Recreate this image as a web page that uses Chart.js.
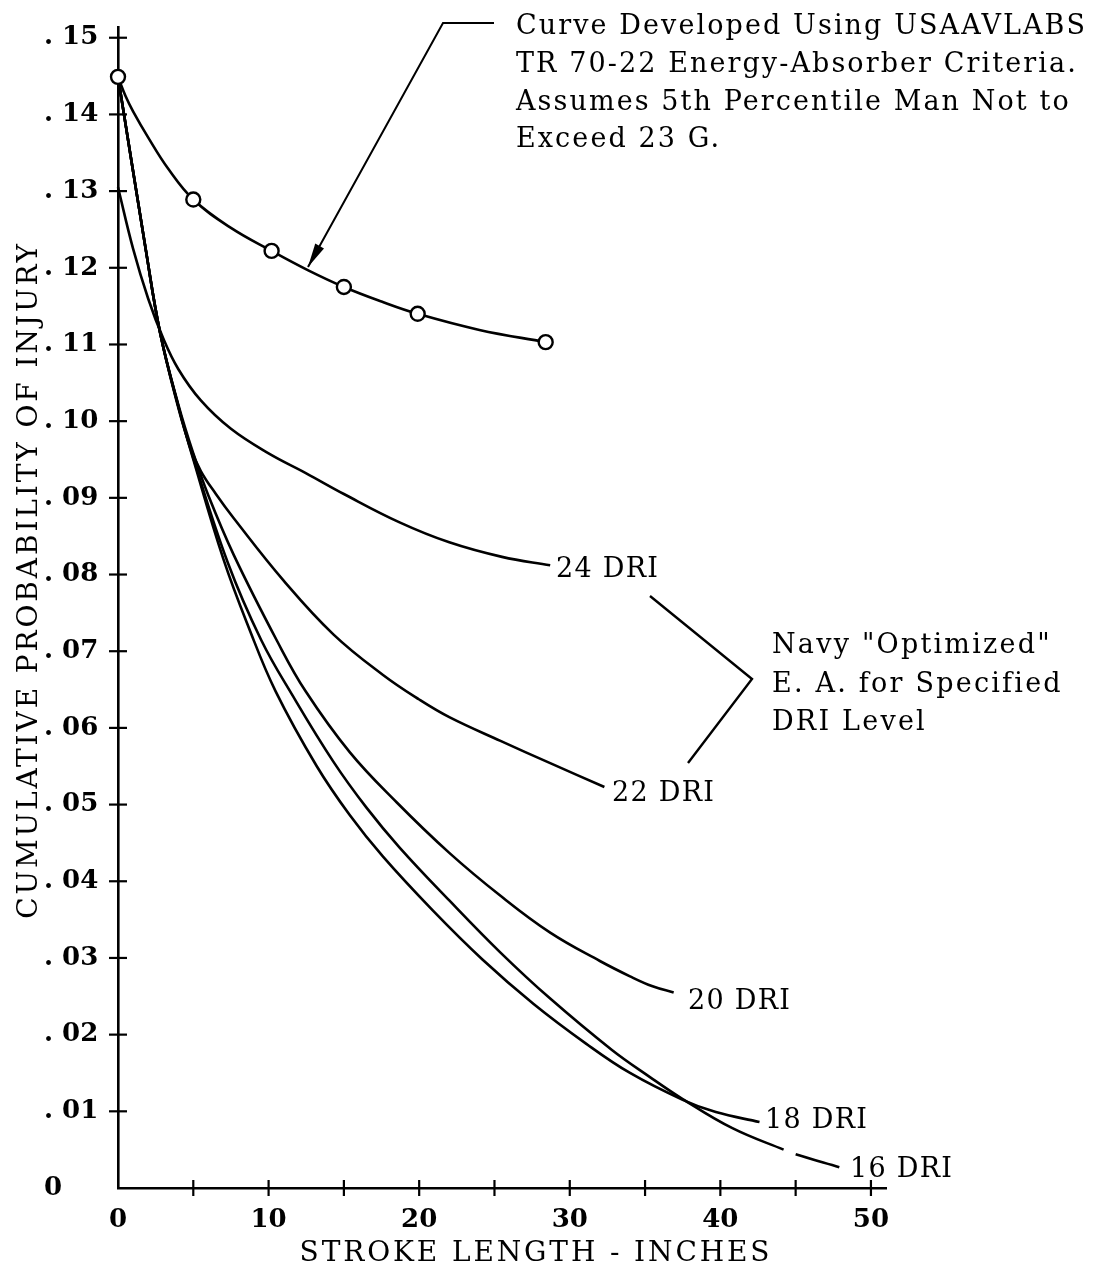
<!DOCTYPE html>
<html><head><meta charset="utf-8">
<script src="https://cdn.jsdelivr.net/npm/chart.js@4.4.1/dist/chart.umd.min.js"></script>
<style>html,body{margin:0;padding:0;background:#fff;}canvas{display:block;}</style>
</head><body>
<canvas id="c" width="1105" height="1270"></canvas>
<script>
// ---------- data ----------
const xTickValues = [0,5,10,15,20,25,30,35,40,45,50];
const xTickLabels = ['0','','10','','20','','30','','40','','50'];
const yTickValues = [0,0.01,0.02,0.03,0.04,0.05,0.06,0.07,0.08,0.09,0.10,0.11,0.12,0.13,0.14,0.15];
const yTickLabels = ['0','. 01','. 02','. 03','. 04','. 05','. 06','. 07','. 08','. 09','. 10','. 11','. 12','. 13','. 14','. 15'];

// USAAVLABS TR 70-22 curve (line) and its plotted points (circles)
const usCurveX = [0, 0.5, 1.0, 2.0, 3.3, 5.0, 7.5, 10.2, 12.6, 15.0, 17.5, 19.9, 24.0, 28.4];
const usCurveY = [0.1449, 0.1424, 0.1404, 0.1370, 0.1330, 0.1289, 0.1252, 0.1222, 0.1197, 0.1175, 0.1156, 0.1140, 0.1119, 0.1103];
const usMarkX = [0, 5.0, 10.2, 15.0, 19.9, 28.4];
const usMarkY = [0.1449, 0.1289, 0.1222, 0.1175, 0.1140, 0.1103];

// Navy "optimized" E.A. curves
const dri24X = [0, 1.0, 2.0, 3.0, 4.0, 5.5, 7.5, 10.0, 12.5, 15.0, 18.7, 22.0, 25.5, 28.7];
const dri24Y = [0.1305, 0.1225, 0.1160, 0.1108, 0.1068, 0.1027, 0.0990, 0.0958, 0.0932, 0.0905, 0.0868, 0.0842, 0.0823, 0.0812];
const dri22X = [0, 1.85, 2.8, 4.0, 4.8, 5.5, 6.5, 7.7, 11.0, 14.3, 17.6, 20.0, 22.0, 25.4, 28.7, 32.3];
const dri22Y = [0.1449, 0.1223, 0.1115, 0.1018, 0.0966, 0.0935, 0.0905, 0.0873, 0.0792, 0.0722, 0.0669, 0.0637, 0.0614, 0.0583, 0.0554, 0.0523];
const dri20X = [0, 1.85, 2.8, 4.0, 5.0, 6.0, 7.7, 10.6, 12.45, 15.4, 18.5, 22.0, 25.4, 28.7, 32.0, 34.0, 35.5, 36.9];
const dri20Y = [0.1449, 0.1223, 0.1115, 0.1022, 0.0958, 0.0903, 0.0825, 0.0712, 0.0648, 0.0568, 0.0503, 0.0437, 0.0381, 0.0333, 0.0296, 0.0276, 0.0263, 0.0255];
const dri18X = [0, 1.85, 2.8, 4.0, 5.0, 7.0, 8.7, 10.46, 13.2, 15.4, 17.6, 20.9, 24.2, 27.6, 31.1, 34.0, 37.5, 39.7, 42.6];
const dri18Y = [0.1449, 0.1223, 0.1115, 0.1020, 0.0950, 0.0820, 0.0730, 0.0648, 0.0550, 0.0486, 0.0432, 0.0362, 0.0298, 0.0240, 0.0188, 0.0150, 0.0115, 0.0099, 0.0086];
const dri16X = [0, 1.85, 2.8, 4.0, 5.0, 7.3, 9.5, 11.6, 14.3, 16.5, 18.7, 22.0, 25.4, 28.7, 32.8, 35.3, 37.5, 40.8, 44.2, 45.0, 47.9];
const dri16Y = [0.1449, 0.1223, 0.1115, 0.1020, 0.0952, 0.0815, 0.0715, 0.0642, 0.0556, 0.0496, 0.0444, 0.0375, 0.0307, 0.0247, 0.0180, 0.0145, 0.0116, 0.0078, 0.0050, 0.0044, 0.0027];

const driLabels = ['24 DRI', '22 DRI', '20 DRI', '18 DRI', '16 DRI'];
const xTitle = 'STROKE LENGTH - INCHES';
const yTitle = 'CUMULATIVE PROBABILITY OF INJURY';
const noteTop = ['Curve Developed Using USAAVLABS', 'TR 70-22 Energy-Absorber Criteria.', 'Assumes 5th Percentile Man Not to', 'Exceed 23 G.'];
const noteRight = ['Navy "Optimized"', 'E. A. for Specified', 'DRI Level'];

// ---------- drawing ----------
const FONT = '"DejaVu Serif", serif';
const CAP = 0.729;
const GAP16 = 18; // segment index of the small break in the 16 DRI line

function pts(xs, ys) { return xs.map((x, i) => ({ x: x, y: ys[i] })); }

function spacingFor(ctx, text, target) {
  ctx.letterSpacing = '0px';
  const w = ctx.measureText(text).width;
  return (target - w) / Math.max(1, text.length - 1);
}
function drawLine(ctx, text, x, yc, size, ls, align) {
  ctx.letterSpacing = ls.toFixed(2) + 'px';
  ctx.textAlign = align || 'left';
  ctx.textBaseline = 'alphabetic';
  ctx.fillText(text, x, yc + CAP * size / 2);
}

const bgPlugin = {
  id: 'bg',
  beforeDraw(chart) {
    const c = chart.ctx; c.save(); c.fillStyle = '#fff'; c.fillRect(0, 0, chart.width, chart.height); c.restore();
  }
};

const annoPlugin = {
  id: 'anno',
  afterDraw(chart) {
    const ctx = chart.ctx, xs = chart.scales.x, ys = chart.scales.y, a = chart.chartArea;
    ctx.save();
    ctx.strokeStyle = '#000'; ctx.fillStyle = '#000';
    // crossing tick marks
    ctx.lineWidth = 2.2;
    xTickValues.forEach(v => {
      if (v === 0) return;
      const p = xs.getPixelForValue(v);
      ctx.beginPath(); ctx.moveTo(p, a.bottom - 8); ctx.lineTo(p, a.bottom + 8); ctx.stroke();
    });
    yTickValues.forEach(v => {
      if (v === 0) return;
      const p = ys.getPixelForValue(v);
      ctx.beginPath(); ctx.moveTo(a.left - 9, p); ctx.lineTo(a.left + 9, p); ctx.stroke();
    });

    // axis titles
    let size = 28;
    ctx.font = size + 'px ' + FONT;
    let ls = spacingFor(ctx, xTitle, 470);
    drawLine(ctx, xTitle, 536, 1251, size, ls, 'center');
    ctx.save();
    ctx.translate(27, 580);
    ctx.rotate(-Math.PI / 2);
    ls = spacingFor(ctx, yTitle, 675);
    drawLine(ctx, yTitle, 0, 0, size, ls, 'center');
    ctx.restore();

    // top note
    size = 27;
    ctx.font = size + 'px ' + FONT;
    ls = spacingFor(ctx, noteTop[0], 569);
    const topY = [24, 62, 100, 137];
    noteTop.forEach((t, i) => drawLine(ctx, t, 516, topY[i], size, ls, 'left'));

    // right note
    size = 27;
    ctx.font = size + 'px ' + FONT;
    ls = spacingFor(ctx, noteRight[1], 288);
    const rY = [643, 682, 720];
    noteRight.forEach((t, i) => drawLine(ctx, t, 772, rY[i], size, ls, 'left'));

    // curve labels
    size = 27;
    ctx.font = size + 'px ' + FONT;
    ls = spacingFor(ctx, '20 DRI', 102);
    const lx = [556, 612, 688, 765, 850];
    const ly = [567, 791, 999, 1118, 1167];
    driLabels.forEach((t, i) => drawLine(ctx, t, lx[i], ly[i], size, ls, 'left'));

    // leader with arrow (top note)
    ctx.letterSpacing = '0px';
    ctx.lineWidth = 2;
    ctx.beginPath(); ctx.moveTo(494, 23); ctx.lineTo(443, 23); ctx.lineTo(308, 267); ctx.stroke();
    const dx = 308 - 443, dy = 267 - 23, L = Math.hypot(dx, dy), ux = dx / L, uy = dy / L;
    const bx = 308 - ux * 24, by = 267 - uy * 24;
    ctx.beginPath();
    ctx.moveTo(308, 267);
    ctx.lineTo(bx - uy * 5, by + ux * 5);
    ctx.lineTo(bx + uy * 5, by - ux * 5);
    ctx.closePath(); ctx.fill();

    // bracket (right note)
    ctx.lineWidth = 2.4;
    ctx.beginPath(); ctx.moveTo(650, 596); ctx.lineTo(752, 679); ctx.lineTo(688, 763); ctx.stroke();
    ctx.restore();
  }
};

const lineStyle = {
  borderColor: '#000', borderWidth: 2.6, pointRadius: 0, pointHoverRadius: 0,
  fill: false, cubicInterpolationMode: 'default', tension: 0.4, showLine: true, clip: false
};

Chart.defaults.font.family = FONT;
Chart.defaults.color = '#000';

new Chart(document.getElementById('c'), {
  type: 'line',
  data: {
    datasets: [
      { data: pts(usMarkX, usMarkY), showLine: false, pointRadius: 7, pointBorderWidth: 2.4,
        pointBackgroundColor: '#fff', pointBorderColor: '#000', clip: false },
      Object.assign({ data: pts(usCurveX, usCurveY) }, lineStyle),
      Object.assign({ data: pts(dri24X, dri24Y) }, lineStyle),
      Object.assign({ data: pts(dri22X, dri22Y) }, lineStyle),
      Object.assign({ data: pts(dri20X, dri20Y) }, lineStyle),
      Object.assign({ data: pts(dri18X, dri18Y) }, lineStyle),
      Object.assign({ data: pts(dri16X, dri16Y),
        segment: { borderColor: c => (c.p0DataIndex === GAP16 ? 'rgba(0,0,0,0)' : undefined) } }, lineStyle)
    ]
  },
  options: {
    responsive: false,
    animation: false,
    devicePixelRatio: 1,
    events: [],
    layout: { padding: { left: 44, top: 27, right: 219, bottom: 0 } },
    plugins: { legend: { display: false }, tooltip: { enabled: false }, title: { display: false } },
    scales: {
      x: {
        type: 'linear', min: 0, max: 51,
        afterBuildTicks: s => { s.ticks = xTickValues.map(v => ({ value: v })); },
        afterFit: s => { s.height = 82; },
        grid: { display: false, drawTicks: false },
        border: { display: true, color: '#000', width: 2.6 },
        ticks: {
          autoSkip: false, maxRotation: 0, minRotation: 0, padding: 17, color: '#000',
          font: { family: FONT, size: 26, weight: 'bold' },
          callback: (v, i) => xTickLabels[i]
        }
      },
      y: {
        type: 'linear', min: 0, max: 0.1514,
        afterBuildTicks: s => { s.ticks = yTickValues.map(v => ({ value: v })); },
        afterFit: s => { s.width = 74; },
        grid: { display: false, drawTicks: false },
        border: { display: true, color: '#000', width: 2.6 },
        ticks: {
          autoSkip: false, crossAlign: 'far', padding: 10, color: '#000',
          font: { family: FONT, size: 26, weight: 'bold' },
          callback: (v, i) => yTickLabels[i]
        }
      }
    }
  },
  plugins: [bgPlugin, annoPlugin]
});
</script>
</body></html>
